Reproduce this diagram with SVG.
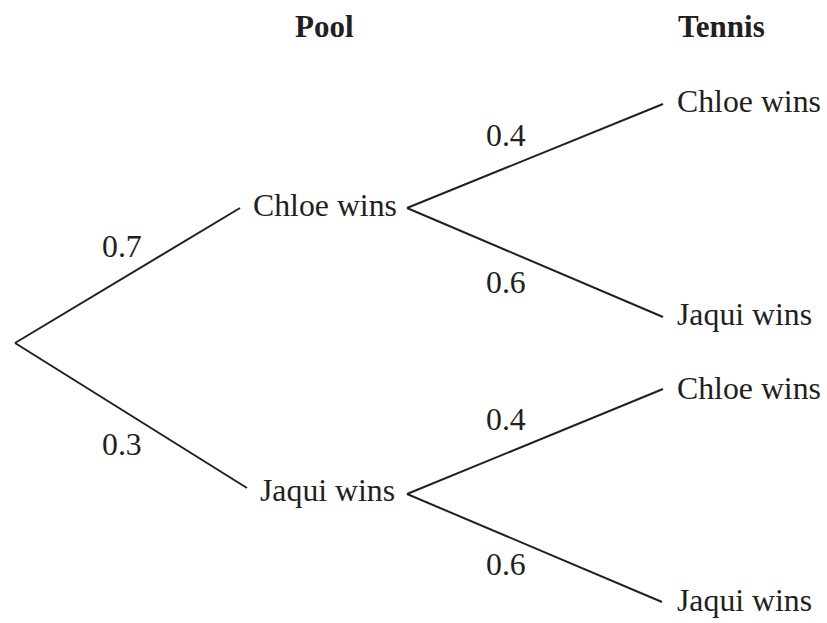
<svg xmlns="http://www.w3.org/2000/svg" width="827" height="623" viewBox="0 0 827 623">
<style>
text{font-family:"Liberation Serif","Times New Roman",serif;font-size:31.8px;fill:#231f20}
.h{font-weight:bold;font-size:31px}
line{stroke:#231f20;stroke-width:2;fill:none}
</style>
<rect width="827" height="623" fill="#fff"/>
<g id="headings">
<text class="h" x="295" y="37">Pool</text>
<text class="h" x="678" y="37">Tennis</text>
</g>
<g id="connectors">
<line x1="15" y1="343" x2="240" y2="208"/>
<line x1="15" y1="343" x2="247" y2="488"/>
<line x1="407" y1="208" x2="663" y2="104"/>
<line x1="407" y1="208" x2="663" y2="317"/>
<line x1="407" y1="494" x2="663" y2="389"/>
<line x1="407" y1="494" x2="662" y2="602"/>
<text x="102" y="257">0.7</text>
<text x="102" y="455">0.3</text>
<text x="486" y="146">0.4</text>
<text x="486" y="293">0.6</text>
<text x="486" y="430">0.4</text>
<text x="486" y="575">0.6</text>
</g>
<g id="pool-chloe"><text x="253" y="216">Chloe wins</text></g>
<g id="pool-jaqui"><text x="260" y="501">Jaqui wins</text></g>
<g id="tennis-chloe-1"><text x="677" y="112">Chloe wins</text></g>
<g id="tennis-jaqui-1"><text x="677" y="325">Jaqui wins</text></g>
<g id="tennis-chloe-2"><text x="677" y="399">Chloe wins</text></g>
<g id="tennis-jaqui-2"><text x="677" y="611">Jaqui wins</text></g>
</svg>
